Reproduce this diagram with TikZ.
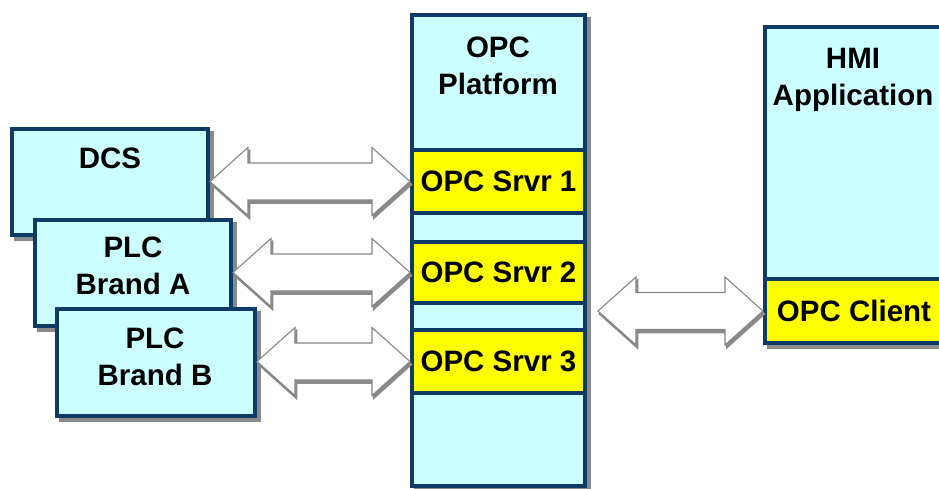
\documentclass[tikz,border=0pt]{standalone}
\usepackage{fontspec}
\setmainfont{Liberation Sans}
\usetikzlibrary{calc}
\definecolor{boxfill}{HTML}{CCFFFF}
\definecolor{srvfill}{HTML}{FFFF00}
\definecolor{edgeblue}{HTML}{0E3A66}
\definecolor{arrowedge}{HTML}{858585}
\definecolor{shadowgrey}{HTML}{8A8A8A}

% hollow double-headed block arrow between two points on one horizontal line
\newcommand{\linkarrow}[2]{%
  \path[linkstyle] let \p1=#1, \p2=#2 in
    (\x1,\y1) -- (\x1+38pt,\y1+34pt) -- (\x1+38pt,\y1+18.5pt)
    -- (\x2-38pt,\y1+18.5pt) -- (\x2-38pt,\y1+34pt) -- (\x2,\y1)
    -- (\x2-38pt,\y1-34pt) -- (\x2-38pt,\y1-18.5pt)
    -- (\x1+38pt,\y1-18.5pt) -- (\x1+38pt,\y1-34pt) -- cycle;}

\begin{document}
\begin{tikzpicture}[x=1pt,y=-1pt,
  unit/.style={draw=edgeblue, line width=4pt, fill=boxfill, inner sep=0pt,
    anchor=north west,
    preaction={draw=shadowgrey, fill=shadowgrey, line width=4pt,
      transform canvas={shift={(3.5pt,-3.5pt)}}}},
  slot/.style={draw=edgeblue, line width=4pt, fill=srvfill, inner sep=0pt,
    anchor=north west, font=\bfseries\fontsize{29.5}{37}\selectfont},
  caption/.style={font=\bfseries\fontsize{29.5}{37}\selectfont,
    align=center, inner sep=0pt},
  linkstyle/.style={draw=arrowedge, line width=1.1pt, fill=white,
    line join=miter,
    preaction={draw=shadowgrey, fill=shadowgrey, line width=1.5pt,
      transform canvas={shift={(1.5pt,-3pt)}}}},
]
\useasboundingbox (0,0) rectangle (939,488);
\clip (0,0) rectangle (939,488);

% field devices
\node[unit, minimum width=196pt, minimum height=106pt] (dcs) at (10,127) {};
\node[caption] (dcstext) at (110,158) {DCS};
\node[unit, minimum width=196pt, minimum height=106pt] (plca) at (33,218) {};
\node[caption] (plcatext) at (133,266) {PLC\\Brand A};
\node[unit, minimum width=198pt, minimum height=107pt] (plcb) at (55,307) {};
\node[caption] (plcbtext) at (155,357) {PLC\\Brand B};

% OPC platform column with its servers
\node[unit, minimum width=173pt, minimum height=471pt] (platform) at (410,13) {};
\node[caption] (platformtext) at (498,66) {OPC\\Platform};
\node[slot, minimum width=173pt, minimum height=63pt] (s1) at (410,148) {OPC Srvr 1};
\node[slot, minimum width=173pt, minimum height=61pt] (s2) at (410,240) {OPC Srvr 2};
\node[slot, minimum width=173pt, minimum height=63pt] (s3) at (410,328) {OPC Srvr 3};

% HMI application with its client
\node[unit, minimum width=178pt, minimum height=316pt] (hmi) at (763,25) {};
\node[caption] (hmitext) at (853,80) {HMI\\Application};
\node[slot, minimum width=178pt, minimum height=64pt] (client) at (763,277) {OPC Client};

% data links
\linkarrow{(dcs.east |- s1.west)}{(s1.west)}
\linkarrow{(plca.east |- s2.west)}{(s2.west)}
\linkarrow{(plcb.east |- s3.west)}{(s3.west)}
\coordinate (hmilink) at ($(platform.east |- client.west)+(11,0)$);
\linkarrow{(hmilink)}{(client.west)}
\end{tikzpicture}
\end{document}
